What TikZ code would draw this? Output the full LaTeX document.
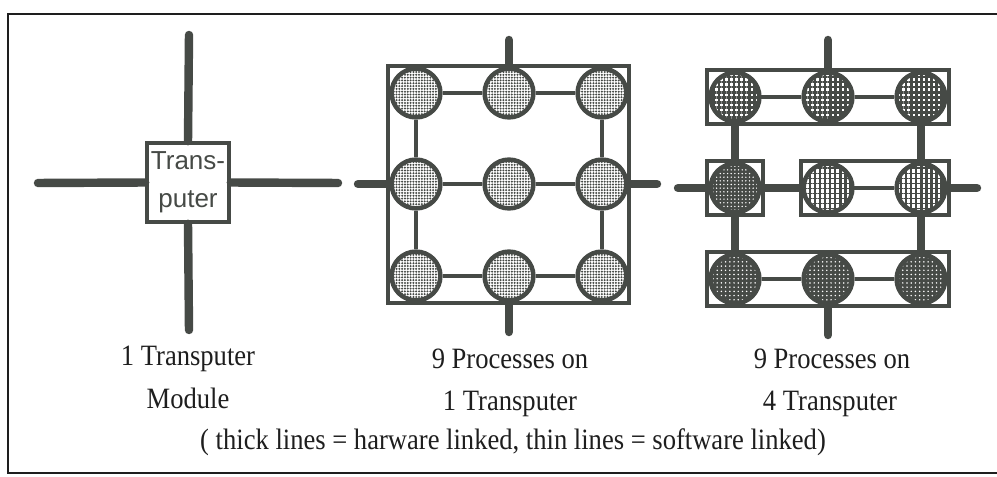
\documentclass[tikz,border=0pt]{standalone}
\usepackage{fontspec}
\setmainfont{Liberation Serif}[FakeStretch=0.9]
\newfontfamily\boxfont{Liberation Sans}
\usetikzlibrary{patterns.meta}
\definecolor{ink}{RGB}{70,74,70}
\definecolor{textgray}{RGB}{30,30,30}

\begin{document}
\begin{tikzpicture}[
  x=0.025cm, y=-0.025cm,
  hw/.style={draw=ink, line width=6pt, line cap=round},
  hwjoin/.style={draw=ink, line width=6pt},
  sw/.style={draw=ink, line width=2.2pt},
  proc/.style={circle, draw=ink, line width=3.2pt, minimum size=1.22cm, inner sep=0pt},
  tbox/.style={draw=ink, line width=2.4pt, inner sep=0pt, minimum height=1.35cm},
  shadeA/.style={pattern={Dots[distance=2pt, radius=0.8pt]}, pattern color=ink},
  shadeB/.style={pattern={Hatch[distance=3.6pt, line width=1.8pt]}, pattern color=ink},
  shadeC/.style={preaction={fill=ink}, pattern={Dots[distance=2.6pt, radius=0.55pt]}, pattern color=white},
  shadeD/.style={preaction={pattern={Lines[angle=90, distance=3.6pt, line width=1.7pt]}, pattern color=ink},
                 pattern={Lines[angle=0, distance=3.6pt, line width=1pt]}, pattern color=ink},
  shadeE/.style={preaction={fill=ink}, pattern={Dots[distance=3pt, radius=0.6pt]}, pattern color=white},
  caption/.style={font=\fontsize{21}{24}\selectfont, text=textgray, anchor=base, inner sep=0pt}
]
\useasboundingbox (0,0) rectangle (997,477);
\draw[line width=1.8pt, draw=textgray] (997,14) -| (8,473) -- (997,473);

% one transputer
\node[draw=ink, line width=2.6pt, minimum width=2.05cm, minimum height=1.975cm, align=center,
      font=\boxfont\fontsize{18.5}{27}\selectfont, text=ink, inner sep=0pt] (tp) at (188,182.5) {Trans-\\puter};
\coordinate (tpn) at (189,35);
\coordinate (tps) at (189,330);
\coordinate (tpw) at (38,183);
\coordinate (tpe) at (338,183);
\draw[hw] (tpn) -- (tp.north);
\draw[hw] (tp.south) -- (tps);
\draw[hw] (tpw) -- (tp.west);
\draw[hw] (tp.east) -- (tpe);

% nine processes on one transputer
\node[draw=ink, line width=2.2pt, minimum width=6.025cm, minimum height=5.925cm, inner sep=0pt] (sq) at (508.5,184.5) {};
\node[proc, shadeA] (s11) at (416,93) {};
\node[proc, shadeA] (s12) at (509,93) {};
\node[proc, shadeA] (s13) at (602,93) {};
\node[proc, shadeA] (s21) at (416,184) {};
\node[proc, shadeA] (s22) at (509,184) {};
\node[proc, shadeA] (s23) at (602,184) {};
\node[proc, shadeA] (s31) at (416,276) {};
\node[proc, shadeA] (s32) at (509,276) {};
\node[proc, shadeA] (s33) at (602,276) {};
\draw[sw] (s11) -- (s12) -- (s13);
\draw[sw] (s21) -- (s22) -- (s23);
\draw[sw] (s31) -- (s32) -- (s33);
\draw[sw] (s11) -- (s21) -- (s31);
\draw[sw] (s13) -- (s23) -- (s33);
\coordinate (sqn) at (509,40);
\coordinate (sqs) at (509,332);
\coordinate (sqw) at (358,184);
\coordinate (sqe) at (657,184);
\draw[hw] (sqn) -- (s12.north);
\draw[hw] (s32.south) -- (sqs);
\draw[hw] (sqw) -- (s21.west);
\draw[hw] (s23.east) -- (sqe);

% nine processes on four transputers
\node[tbox, minimum width=6.05cm] (top) at (828,97) {};
\node[tbox, minimum width=1.4cm] (midl) at (735,188) {};
\node[tbox, minimum width=3.7cm] (midr) at (875,188) {};
\node[tbox, minimum width=6.05cm] (bot) at (828,279) {};
\node[proc, shadeB] (f11) at (735,97) {};
\node[proc, shadeB] (f12) at (828,97) {};
\node[proc, shadeB] (f13) at (921,97) {};
\node[proc, shadeC] (f21) at (735,188) {};
\node[proc, shadeD] (f22) at (828,188) {};
\node[proc, shadeD] (f23) at (921,188) {};
\node[proc, shadeE] (f31) at (735,279) {};
\node[proc, shadeE] (f32) at (828,279) {};
\node[proc, shadeE] (f33) at (921,279) {};
\draw[sw] (f11) -- (f12) -- (f13);
\draw[sw] (f22) -- (f23);
\draw[sw] (f31) -- (f32) -- (f33);
\draw[hwjoin] (top.south -| midl) -- (midl.north);
\draw[hwjoin] (midl.south) -- (bot.north -| midl);
\draw[hwjoin] (top.south -| f23) -- (midr.north -| f23);
\draw[hwjoin] (midr.south -| f23) -- (bot.north -| f23);
\draw[hwjoin] (midl.east) -- (midr.west);
\coordinate (fn) at (828,40);
\coordinate (fs) at (828,335);
\coordinate (fw) at (678,188);
\coordinate (fe) at (977,188);
\draw[hw] (fn) -- (top.north -| f12);
\draw[hw] (bot.south -| f32) -- (fs);
\draw[hw] (fw) -- (midl.west);
\draw[hw] (midr.east) -- (fe);

% captions
\node[caption] (capa1) at (188,366) {1 Transputer};
\node[caption] (capa2) at (188,408) {Module};
\node[caption] (capb1) at (510,369) {9 Processes on};
\node[caption] (capb2) at (510,410) {1 Transputer};
\node[caption] (capc1) at (832,369) {9 Processes on};
\node[caption] (capc2) at (830,410) {4 Transputer};
\node[caption] (note) at (513,449) {( thick lines = harware linked, thin lines = software linked)};
\end{tikzpicture}
\end{document}
